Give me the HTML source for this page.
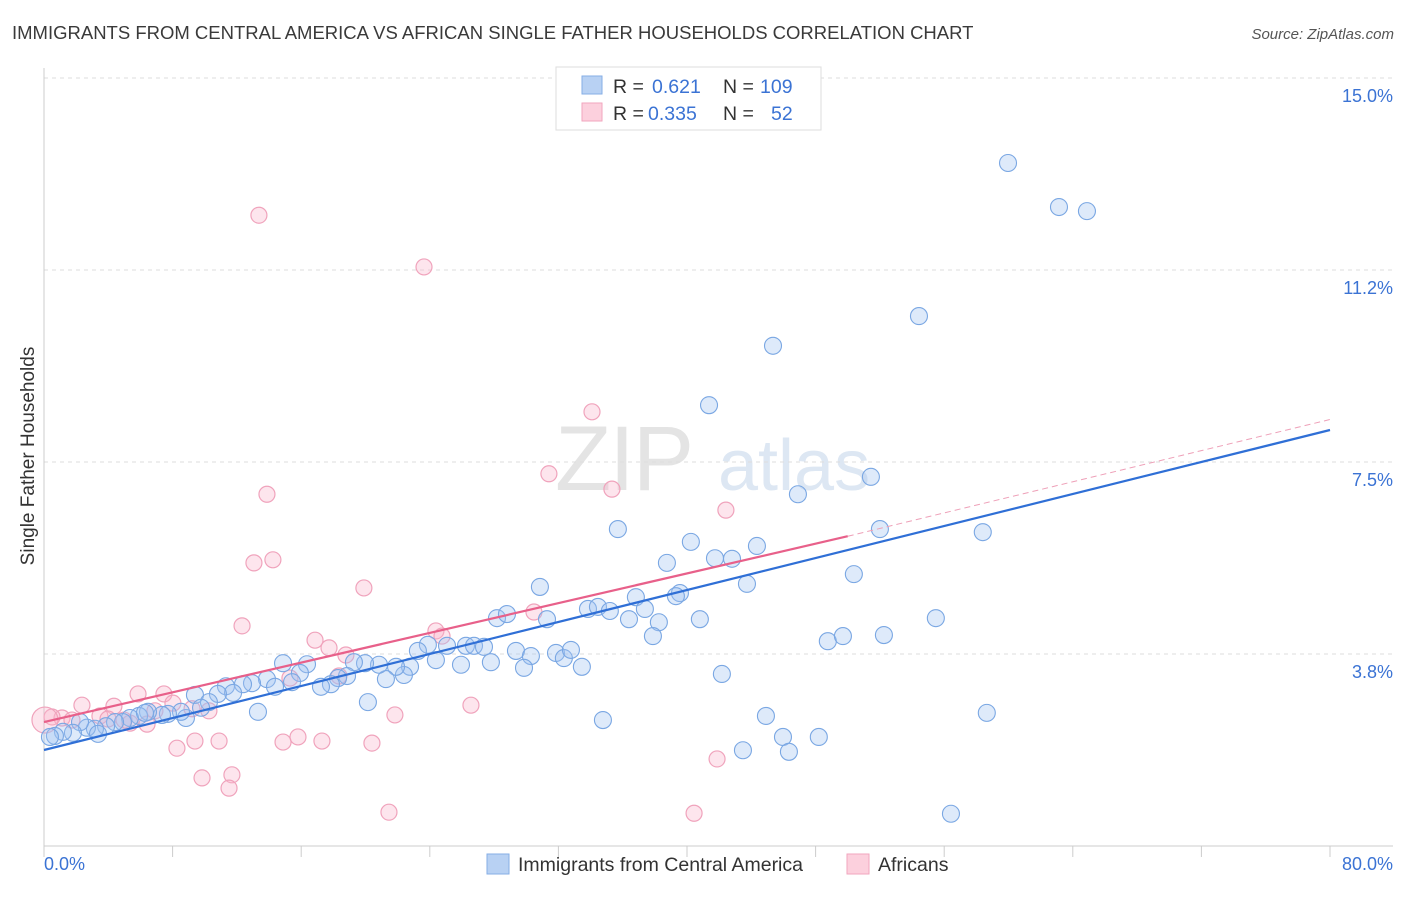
<!DOCTYPE html>
<html><head><meta charset="utf-8"><style>
body{margin:0;background:#fff;font-family:"Liberation Sans",sans-serif;}
svg text{font-family:"Liberation Sans",sans-serif;}
</style></head><body>
<svg id="chart" width="1406" height="892" viewBox="0 0 1406 892" xmlns="http://www.w3.org/2000/svg">
<text x="12" y="39" font-size="18.5" fill="#3a3a3a">IMMIGRANTS FROM CENTRAL AMERICA VS AFRICAN SINGLE FATHER HOUSEHOLDS CORRELATION CHART</text>
<text x="1394" y="39" font-size="15" fill="#555" text-anchor="end" font-style="italic">Source: ZipAtlas.com</text>
<g>
<text x="555" y="490" font-size="92" fill="#e4e4e4" font-family="Liberation Serif" letter-spacing="-2">ZIP</text>
<text x="718" y="490" font-size="72" fill="#dde7f3">atlas</text>
</g>
<g id="grid"></g>
<g id="axes"></g>
<g id="marks"></g>
<text transform="translate(34,456) rotate(-90)" font-size="19" fill="#333" text-anchor="middle">Single Father Households</text>
<g>
<rect x="556" y="67" width="265" height="63" fill="#fff" stroke="#ddd"/>
<rect x="582" y="76" width="20" height="18" fill="#b8d1f3" stroke="#86aee6"/>
<rect x="582" y="103" width="20" height="18" fill="#fcd0dd" stroke="#f2a6be"/>
<text x="613" y="93" font-size="19.5" fill="#333">R =</text>
<text x="652" y="93" font-size="19.5" fill="#3b73d4">0.621</text>
<text x="723" y="93" font-size="19.5" fill="#333">N =</text>
<text x="760" y="93" font-size="19.5" fill="#3b73d4">109</text>
<text x="613" y="120" font-size="19.5" fill="#333">R =</text>
<text x="648" y="120" font-size="19.5" fill="#3b73d4">0.335</text>
<text x="723" y="120" font-size="19.5" fill="#333">N =</text>
<text x="771" y="120" font-size="19.5" fill="#3b73d4">52</text>
</g>
<g>
<rect x="487" y="854" width="22" height="20" fill="#b8d1f3" stroke="#86aee6"/>
<text x="518" y="871" font-size="19.5" fill="#333">Immigrants from Central America</text>
<rect x="847" y="854" width="22" height="20" fill="#fcd0dd" stroke="#f2a6be"/>
<text x="878" y="871" font-size="19.5" fill="#333">Africans</text>
</g>
</svg>
<script>
const xTickLabels=["0.0%","80.0%"];
const yTicks=[3.75,7.5,11.25,15.0];
const yTickLabels=["3.8%","7.5%","11.2%","15.0%"];
const blueX=[59.97,63.14,64.88,54.43,45.35,41.37,46.9,51.44,52.0,58.4,35.7,40.24,41.74,42.8,44.35,38.75,50.38,30.85,43.73,36.82,39.56,39.31,33.84,34.46,35.2,37.38,36.39,38.25,40.8,55.48,28.18,28.8,31.29,37.88,48.76,49.7,52.25,23.88,23.26,25.07,26.25,26.75,27.37,29.36,30.29,31.85,32.34,32.78,33.46,29.86,27.8,25.94,24.38,22.77,22.39,21.9,21.27,20.84,19.97,19.28,18.85,18.29,17.85,17.23,16.36,14.87,15.92,13.87,15.43,14.37,12.94,12.38,11.32,11.76,10.82,9.39,10.26,9.77,8.83,8.52,7.71,7.34,6.47,5.91,5.35,4.91,4.42,3.86,3.17,2.67,2.24,1.8,1.18,0.68,0.37,3.36,6.28,13.31,20.15,34.77,42.17,44.91,45.97,43.48,46.34,48.2,58.65,56.42];
const blueY=[13.34,12.48,12.40,10.35,9.77,8.61,6.87,7.21,6.19,6.13,6.19,5.94,5.62,5.61,5.86,5.53,5.31,5.06,5.12,4.86,4.94,4.88,4.63,4.67,4.59,4.63,4.43,4.37,4.43,4.45,4.45,4.53,4.43,4.10,4.00,4.10,4.12,3.93,3.81,3.91,3.91,3.91,3.89,3.81,3.71,3.77,3.67,3.83,3.50,3.48,3.59,3.54,3.63,3.50,3.34,3.50,3.26,3.54,3.57,3.59,3.32,3.28,3.16,3.11,3.55,3.57,3.38,3.26,3.20,3.11,3.18,3.16,3.12,2.99,2.97,2.95,2.81,2.70,2.50,2.62,2.58,2.56,2.62,2.54,2.50,2.42,2.42,2.34,2.29,2.31,2.42,2.21,2.23,2.15,2.13,2.19,2.60,2.62,2.81,2.46,3.36,2.54,2.13,1.87,1.84,2.13,2.60,0.63];
const pinkX=[13.37,23.64,34.09,31.41,35.33,13.87,42.42,14.24,13.06,19.9,12.32,30.48,16.86,24.38,24.76,17.73,18.78,15.3,18.35,5.85,7.46,8.02,2.36,4.35,10.26,6.9,26.56,21.83,9.21,3.48,1.12,0.5,1.74,4.98,5.35,6.41,15.8,17.29,14.87,20.4,9.39,10.89,8.27,11.69,9.83,11.51,21.46,40.44,41.87,0.06,3.98];
const pinkY=[12.32,11.31,8.48,7.27,6.97,6.87,6.56,5.59,5.53,5.04,4.30,4.57,4.02,4.20,4.10,3.87,3.73,3.28,3.32,2.97,2.97,2.79,2.75,2.73,2.64,2.64,2.75,2.56,2.68,2.54,2.50,2.52,2.46,2.46,2.40,2.38,2.13,2.05,2.03,2.01,2.05,2.05,1.91,1.39,1.33,1.13,0.66,0.64,1.70,2.46,2.48];
const blueTrend=[[0,1.875],[80,8.125]];
const pinkTrend=[[0,2.42],[50,6.05]];
const pinkDash=[[50,6.05],[80,8.33]];
const NS="http://www.w3.org/2000/svg";
const X=v=>44+v*16.075;
const Y=v=>846-v*51.2;
function mk(tag,attrs,parent){const e=document.createElementNS(NS,tag);for(const k in attrs)e.setAttribute(k,attrs[k]);parent.appendChild(e);return e;}
const grid=document.getElementById('grid'),axes=document.getElementById('axes'),marks=document.getElementById('marks');
yTicks.forEach((t,i)=>{
 const l=mk('line',{x1:44,x2:1393,y1:Y(t),y2:Y(t),stroke:'#dedede','stroke-dasharray':'4,4'},grid);
 
 
 const tx=mk('text',{x:1393,y:Y(t)+24,'font-size':18,fill:'#3b73d4','text-anchor':'end'},axes);
 tx.textContent=yTickLabels[i];
 
 
});
const ya=mk('line',{x1:44,x2:44,y1:68,y2:846,stroke:'#ccc'},axes);


const xa=mk('line',{x1:44,x2:1393,y1:846,y2:846,stroke:'#ccc'},axes);


for(let v=0;v<=80;v+=8){const t=mk('line',{x1:X(v),x2:X(v),y1:846,y2:857,stroke:'#ccc'},axes);
 
 }
[[0,'start',44],[80,'end',1393]].forEach((a,i)=>{const t=mk('text',{x:a[2],y:870,'font-size':18,fill:'#3b73d4','text-anchor':a[1]},axes);t.textContent=xTickLabels[i];
 
 });
pinkX.forEach((v,i)=>{const r=(i===pinkX.length-2)?13:8;
 const c=mk('circle',{cx:X(v),cy:Y(pinkY[i]),r:r,fill:'rgba(248,180,202,0.35)',stroke:'#f0a3bc','stroke-width':1.2},marks);
 
 });
blueX.forEach((v,i)=>{const c=mk('circle',{cx:X(v),cy:Y(blueY[i]),r:8.5,fill:'rgba(160,195,240,0.35)',stroke:'#7aa7e3','stroke-width':1.1},marks);
 
 });
const bl=mk('line',{x1:X(blueTrend[0][0]),y1:Y(blueTrend[0][1]),x2:X(blueTrend[1][0]),y2:Y(blueTrend[1][1]),stroke:'#2f6fd6','stroke-width':2.2},marks);


const pl=mk('line',{x1:X(pinkTrend[0][0]),y1:Y(pinkTrend[0][1]),x2:X(pinkTrend[1][0]),y2:Y(pinkTrend[1][1]),stroke:'#e8608a','stroke-width':2.2},marks);


const pd=mk('line',{x1:X(pinkDash[0][0]),y1:Y(pinkDash[0][1]),x2:X(pinkDash[1][0]),y2:Y(pinkDash[1][1]),stroke:'#eea0b8','stroke-width':1,'stroke-dasharray':'6,4'},marks);


</script>
</body></html>
